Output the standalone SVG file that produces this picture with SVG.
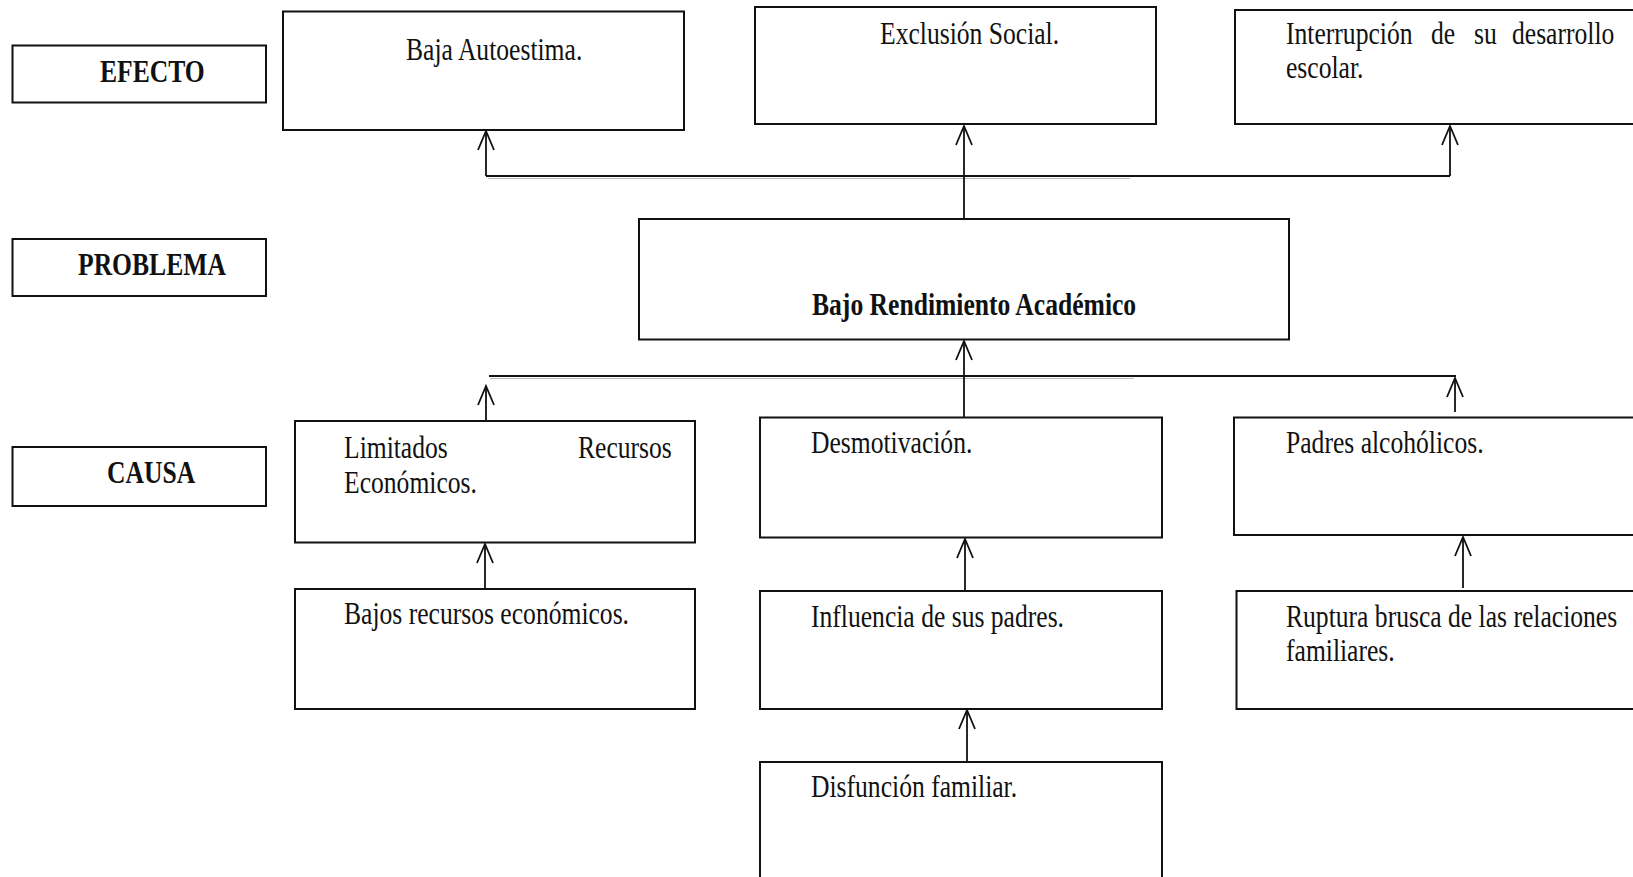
<svg xmlns="http://www.w3.org/2000/svg" width="1633" height="877" viewBox="0 0 1633 877">
<style>
.box{fill:#fff;stroke:#111;stroke-width:2}
.t{font-family:'Liberation Serif','DejaVu Serif',serif;font-size:32px;fill:#111}
.b{font-weight:bold}
.c{fill:none;stroke:#111;stroke-width:1.8}
.sh{fill:none;stroke:#bbb;stroke-width:1.2}
</style>
<defs>
<marker id="arr" markerUnits="userSpaceOnUse" markerWidth="24" markerHeight="24" viewBox="-21 -11 24 22" refX="0" refY="0" orient="auto">
<path d="M-19,-8 L0,0 L-19,8" fill="none" stroke="#111" stroke-width="1.8"/>
</marker>
</defs>
<rect width="1633" height="877" fill="#fff"/>

<g id="connectors">
<line class="sh" x1="488" y1="178.5" x2="1130" y2="178.5"/>
<line class="c" x1="486" y1="176" x2="1450" y2="176"/>
<line class="c" x1="486" y1="176" x2="486" y2="131" marker-end="url(#arr)"/>
<line class="c" x1="964" y1="229" x2="964" y2="126" marker-end="url(#arr)"/>
<line class="c" x1="1450" y1="176" x2="1450" y2="126" marker-end="url(#arr)"/>
<line class="sh" x1="490" y1="378.5" x2="1134" y2="378.5"/>
<line class="c" x1="489" y1="376" x2="1456" y2="376"/>
<line class="c" x1="486" y1="420" x2="486" y2="386" marker-end="url(#arr)"/>
<line class="c" x1="964" y1="417" x2="964" y2="341" marker-end="url(#arr)"/>
<line class="c" x1="1455" y1="412" x2="1455" y2="378" marker-end="url(#arr)"/>
<line class="c" x1="485" y1="593" x2="485" y2="544" marker-end="url(#arr)"/>
<line class="c" x1="965" y1="591" x2="965" y2="539" marker-end="url(#arr)"/>
<line class="c" x1="1463" y1="588" x2="1463" y2="537" marker-end="url(#arr)"/>
<line class="c" x1="967" y1="762" x2="967" y2="710" marker-end="url(#arr)"/>
</g>

<g id="label-efecto">
<rect class="box" x="12.5" y="45.5" width="253.5" height="57"/>
<text class="t b" font-family="Liberation Serif, serif" transform="translate(100,82) scale(0.8,1)">EFECTO</text>
</g>
<g id="label-problema">
<rect class="box" x="12.5" y="239" width="253.5" height="57"/>
<text class="t b" font-family="Liberation Serif, serif" transform="translate(78,275) scale(0.8,1)">PROBLEMA</text>
</g>
<g id="label-causa">
<rect class="box" x="12.5" y="447" width="253.5" height="59"/>
<text class="t b" font-family="Liberation Serif, serif" transform="translate(107,483) scale(0.8,1)">CAUSA</text>
</g>

<g id="efecto-1">
<rect class="box" x="283" y="11.5" width="401" height="118.5"/>
<text class="t" font-family="Liberation Serif, serif" transform="translate(406,60) scale(0.8,1)">Baja Autoestima.</text>
</g>
<g id="efecto-2">
<rect class="box" x="755" y="7" width="401" height="117"/>
<text class="t" font-family="Liberation Serif, serif" transform="translate(880,44) scale(0.8,1)">Exclusión Social.</text>
</g>
<g id="efecto-3">
<rect class="box" x="1235" y="10" width="420" height="114"/>
<text class="t" font-family="Liberation Serif, serif" transform="translate(1286,44) scale(0.8,1)">Interrupción</text>
<text class="t" font-family="Liberation Serif, serif" transform="translate(1431,44) scale(0.8,1)">de</text>
<text class="t" font-family="Liberation Serif, serif" transform="translate(1474,44) scale(0.8,1)">su</text>
<text class="t" font-family="Liberation Serif, serif" transform="translate(1512,44) scale(0.8,1)">desarrollo</text>
<text class="t" font-family="Liberation Serif, serif" transform="translate(1286,78) scale(0.8,1)">escolar.</text>
</g>

<g id="problema">
<rect class="box" x="639" y="219" width="650" height="120.5"/>
<text class="t b" font-family="Liberation Serif, serif" transform="translate(812,315) scale(0.8,1)">Bajo Rendimiento Académico</text>
</g>

<g id="causa-1">
<rect class="box" x="295" y="421" width="400" height="121.5"/>
<text class="t" font-family="Liberation Serif, serif" transform="translate(344,458) scale(0.8,1)">Limitados</text>
<text class="t" font-family="Liberation Serif, serif" transform="translate(578,458) scale(0.8,1)">Recursos</text>
<text class="t" font-family="Liberation Serif, serif" transform="translate(344,493) scale(0.8,1)">Económicos.</text>
</g>
<g id="causa-2">
<rect class="box" x="760" y="417.5" width="402" height="120"/>
<text class="t" font-family="Liberation Serif, serif" transform="translate(811,453) scale(0.8,1)">Desmotivación.</text>
</g>
<g id="causa-3">
<rect class="box" x="1234" y="417.5" width="420" height="117.5"/>
<text class="t" font-family="Liberation Serif, serif" transform="translate(1286,453) scale(0.8,1)">Padres alcohólicos.</text>
</g>

<g id="subcausa-1">
<rect class="box" x="295" y="589" width="400" height="120"/>
<text class="t" font-family="Liberation Serif, serif" transform="translate(344,624) scale(0.8,1)">Bajos recursos económicos.</text>
</g>
<g id="subcausa-2">
<rect class="box" x="760" y="591" width="402" height="118"/>
<text class="t" font-family="Liberation Serif, serif" transform="translate(811,627) scale(0.8,1)">Influencia de sus padres.</text>
</g>
<g id="subcausa-3">
<rect class="box" x="1236.5" y="591" width="420" height="118"/>
<text class="t" font-family="Liberation Serif, serif" transform="translate(1286,627) scale(0.8,1)">Ruptura brusca de las relaciones</text>
<text class="t" font-family="Liberation Serif, serif" transform="translate(1286,661) scale(0.8,1)">familiares.</text>
</g>
<g id="subcausa-4">
<rect class="box" x="760" y="762" width="402" height="140"/>
<text class="t" font-family="Liberation Serif, serif" transform="translate(811,797) scale(0.8,1)">Disfunción familiar.</text>
</g>
</svg>
